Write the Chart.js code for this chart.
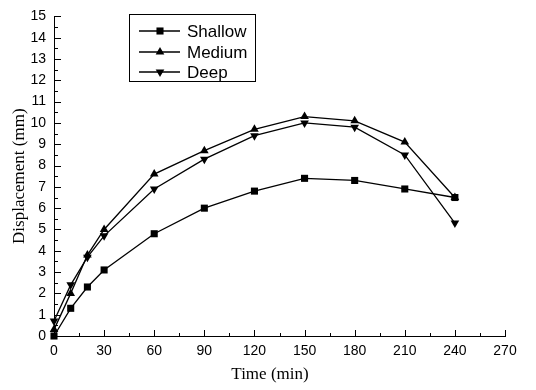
<!DOCTYPE html>
<html>
<head>
<meta charset="utf-8">
<script src="https://cdn.jsdelivr.net/npm/chart.js@4/dist/chart.umd.min.js"></script>
<style>
html,body{margin:0;padding:0;background:#fff;}
canvas{display:block;}
</style>
</head>
<body>
<canvas id="c" width="536" height="390"></canvas>
<script>
const times = [0, 10, 20, 30, 60, 90, 120, 150, 180, 210, 240];
const shallow = [0, 1.3, 2.3, 3.1, 4.8, 6.0, 6.8, 7.4, 7.3, 6.9, 6.5];
const medium = [0.3, 2.0, 3.8, 5.0, 7.6, 8.7, 9.7, 10.3, 10.1, 9.1, 6.5];
const deep = [0.7, 2.4, 3.7, 4.7, 6.9, 8.3, 9.4, 10.0, 9.8, 8.5, 5.3];
const seriesNames = ['Shallow', 'Medium', 'Deep'];
const xTitle = 'Time (min)';
const yTitle = 'Displacement (mm)';

const styles = [
  {pointStyle: 'rect', radius: 5, rotation: 0},
  {pointStyle: 'triangle', radius: 5, rotation: 0},
  {pointStyle: 'triangle', radius: 5, rotation: 180}
];
const seriesData = [shallow, medium, deep];

const datasets = seriesNames.map((name, i) => ({
  label: name,
  data: times.map((t, j) => ({x: t, y: seriesData[i][j]})),
  borderColor: '#000',
  backgroundColor: '#000',
  borderWidth: 1.3,
  pointStyle: styles[i].pointStyle,
  pointRadius: styles[i].radius,
  pointRotation: styles[i].rotation,
  pointBorderWidth: 0,
  pointBackgroundColor: '#000',
  tension: 0,
  clip: false
}));

function drawMarker(ctx, style, x, y, r, rot) {
  ctx.beginPath();
  if (style === 'rect') {
    const s = Math.SQRT1_2 * r;
    ctx.rect(x - s, y - s, 2 * s, 2 * s);
  } else {
    let rad = rot * Math.PI / 180;
    ctx.moveTo(x + Math.sin(rad) * r, y - Math.cos(rad) * r);
    rad += 2 * Math.PI / 3;
    ctx.lineTo(x + Math.sin(rad) * r, y - Math.cos(rad) * r);
    rad += 2 * Math.PI / 3;
    ctx.lineTo(x + Math.sin(rad) * r, y - Math.cos(rad) * r);
    ctx.closePath();
  }
  ctx.fill();
}

const decor = {
  id: 'decor',
  afterDraw(chart) {
    const ctx = chart.ctx;
    const xs = chart.scales.x, ys = chart.scales.y;
    const area = chart.chartArea;
    ctx.save();
    ctx.strokeStyle = '#000';
    ctx.lineWidth = 1;
    // inward ticks x
    for (let v = 0; v <= 270; v += 15) {
      const px = Math.round(xs.getPixelForValue(v)) + 0.5;
      const len = v % 30 === 0 ? 6 : 3;
      ctx.beginPath();
      ctx.moveTo(px, area.bottom);
      ctx.lineTo(px, area.bottom - len);
      ctx.stroke();
    }
    // inward ticks y
    for (let v = 0; v <= 15; v += 0.5) {
      const py = Math.round(ys.getPixelForValue(v)) + 0.5;
      const len = Number.isInteger(v) ? 7 : 4;
      ctx.beginPath();
      ctx.moveTo(area.left, py);
      ctx.lineTo(area.left + len, py);
      ctx.stroke();
    }
    // axis titles
    ctx.fillStyle = '#000';
    ctx.font = '17px "Liberation Serif", "Times New Roman", serif';
    ctx.textAlign = 'center';
    ctx.textBaseline = 'middle';
    ctx.fillText(xTitle, 270, 375);
    ctx.save();
    ctx.translate(20, (area.top + area.bottom) / 2);
    ctx.rotate(-Math.PI / 2);
    ctx.fillText(yTitle, 0, 0);
    ctx.restore();
    // legend
    ctx.strokeRect(129.5, 14.5, 126, 67);
    const rows = [31, 52, 72];
    ctx.font = '17px "Liberation Sans", Arial, sans-serif';
    ctx.textAlign = 'left';
    ctx.textBaseline = 'middle';
    seriesNames.forEach((name, i) => {
      const y = rows[i];
      ctx.lineWidth = 1.3;
      ctx.beginPath();
      ctx.moveTo(139, y);
      ctx.lineTo(180, y);
      ctx.stroke();
      drawMarker(ctx, styles[i].pointStyle, 160, y, styles[i].radius, styles[i].rotation);
      ctx.fillText(name, 187, y + 1);
    });
    ctx.restore();
  }
};

new Chart(document.getElementById('c'), {
  type: 'line',
  data: {datasets},
  options: {
    responsive: false,
    animation: false,
    events: [],
    layout: {padding: {top: 11, right: 31, left: 0, bottom: 0}},
    plugins: {legend: {display: false}, tooltip: {enabled: false}},
    scales: {
      x: {
        type: 'linear',
        min: 0, max: 270,
        grid: {display: false, drawTicks: false},
        border: {display: true, color: '#000', width: 1},
        ticks: {stepSize: 30, color: '#000', padding: 7, maxRotation: 0,
          font: {family: '"Liberation Sans", Arial, sans-serif', size: 14}},
        afterFit(s) { s.height = 54; }
      },
      y: {
        min: 0, max: 15,
        grid: {display: false, drawTicks: false},
        border: {display: true, color: '#000', width: 1},
        ticks: {stepSize: 1, color: '#000', padding: 8,
          font: {family: '"Liberation Sans", Arial, sans-serif', size: 14}},
        afterFit(s) { s.width = 54; }
      }
    }
  },
  plugins: [decor]
});
</script>
</body>
</html>
